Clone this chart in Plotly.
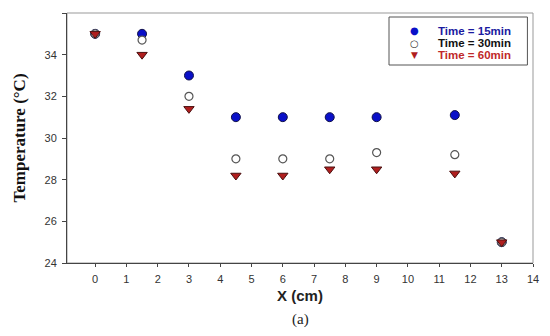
import plotly.graph_objects as go

x_pos = [0, 1.5, 3, 4.5, 6, 7.5, 9, 11.5, 13]
t15 = [35, 35, 33, 31, 31, 31, 31, 31.1, 25]
t30 = [35, 34.7, 32, 29, 29, 29, 29.3, 29.2, 25]
t60 = [35, 34, 31.4, 28.2, 28.2, 28.5, 28.5, 28.3, 25]
names = ["Time = 15min", "Time = 30min", "Time = 60min"]
name_colors = ["#1a1aa0", "#111111", "#c0282a"]
legend_glyphs = ["●", "○", "▼"]
glyph_colors = ["#0a10c8", "#333333", "#b01e1e"]
x_ticks = list(range(0, 15))
y_ticks = list(range(24, 37, 2))

fig = go.Figure()
fig.add_trace(go.Scatter(x=x_pos, y=t15, mode="markers", name=names[0],
                         marker=dict(symbol="circle", size=9, color="#0a10c8",
                                     line=dict(color="#10104a", width=1))))
fig.add_trace(go.Scatter(x=x_pos, y=t30, mode="markers", name=names[1],
                         marker=dict(symbol="circle", size=8, color="white",
                                     line=dict(color="#555555", width=1.2))))
fig.add_trace(go.Scatter(x=x_pos, y=t60, mode="markers", name=names[2],
                         marker=dict(symbol="triangle-down", size=9, color="#b01e1e",
                                     line=dict(color="#4a1010", width=1))))

# manual compact legend (box + glyphs + coloured labels)
row_y = [0.928, 0.88, 0.832]
annotations = []
for i in range(3):
    annotations.append(dict(text=legend_glyphs[i], x=0.745, y=row_y[i], xref="paper", yref="paper",
                            xanchor="center", yanchor="middle", showarrow=False,
                            font=dict(family="DejaVu Sans", size=10 if i != 2 else 9,
                                      color=glyph_colors[i])))
    annotations.append(dict(text=f"<b>{names[i]}</b>", x=0.792, y=row_y[i], xref="paper", yref="paper",
                            xanchor="left", yanchor="middle", showarrow=False,
                            font=dict(family="Arial", size=11.5, color=name_colors[i])))
annotations.append(dict(text="(a)", x=0.5, y=-0.185, xref="paper", yref="paper",
                        xanchor="center", yanchor="top", showarrow=False,
                        font=dict(family="Times New Roman, Liberation Serif", size=15, color="#222222")))

fig.update_layout(
    width=542, height=328, autosize=False,
    margin=dict(l=59, r=17, t=5, b=73),
    paper_bgcolor="white", plot_bgcolor="white",
    showlegend=False,
    font=dict(family="Arial", color="#333333"),
    annotations=annotations,
    shapes=[dict(type="rect", xref="paper", yref="paper", x0=0, y0=0, x1=1, y1=1,
                 line=dict(color="#999999", width=1), layer="below"),
            dict(type="rect", xref="paper", yref="paper", x0=0.691, y0=0.792, x1=0.988, y1=0.984,
                 line=dict(color="#555555", width=1), fillcolor="white", layer="below")],
)
fig.update_xaxes(range=[-0.9, 14.0], tickvals=x_ticks, ticks="outside", ticklen=3,
                 tickcolor="#444444", showline=True, linecolor="#444444", linewidth=1,
                 showgrid=False, zeroline=False, ticklabelstandoff=3,
                 tickfont=dict(family="Arial", size=11, color="#333333"),
                 title=dict(text="<b>X (cm)</b>", standoff=6,
                            font=dict(family="Arial", size=15, color="#222222")))
fig.update_yaxes(range=[24, 36], tickvals=y_ticks, ticks="outside", ticklen=4,
                 tickcolor="#444444", showline=True, linecolor="#444444", linewidth=1,
                 showgrid=False, zeroline=False, ticklabelstandoff=3,
                 tickfont=dict(family="Arial", size=11, color="#333333"),
                 title=dict(text="<b>Temperature (°C)</b>", standoff=14,
                            font=dict(family="Times New Roman, Liberation Serif", size=17, color="#111111")))

fig.write_html("out.html")
